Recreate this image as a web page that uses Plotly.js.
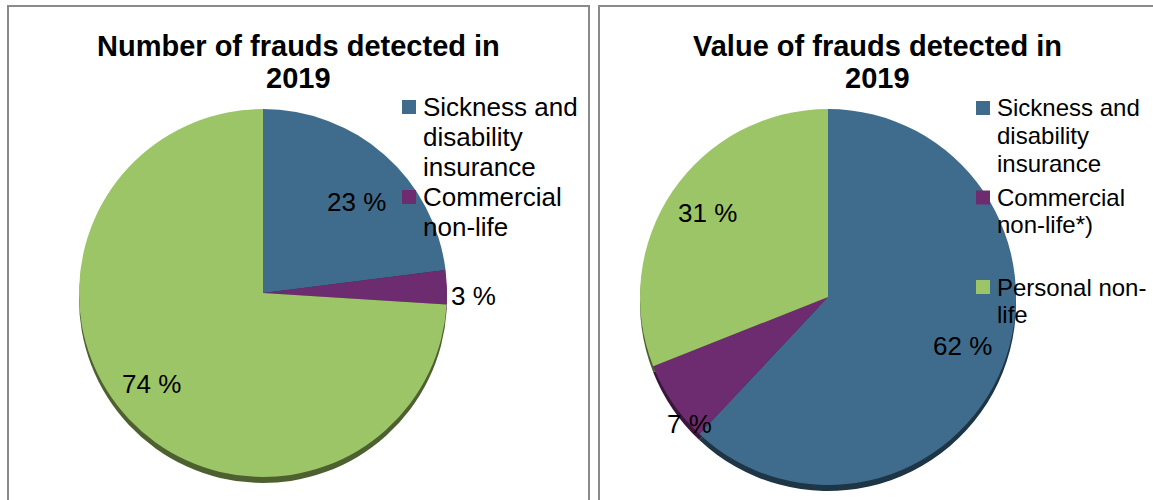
<!DOCTYPE html>
<html><head><meta charset="utf-8">
<script src="https://cdn.plot.ly/plotly-3.0.1.min.js"></script>
<style>html,body{margin:0;padding:0;background:#fff}</style>
</head><body><div id="chart" style="width:1153px;height:500px"></div>
<script>
// ---- data ----
const categoriesLeft = ["Sickness and<br>disability<br>insurance", "Commercial<br>non-life", "Personal non-<br>life"];
const categoriesRight = ["Sickness and<br>disability<br>insurance", "Commercial<br>non-life*)", "Personal non-<br>life"];
const numberShares = [23, 3, 74];
const valueShares = [62, 7, 31];
const titleLeft = "Number of frauds detected in<br>2019";
const titleRight = "Value of frauds detected in<br>2019";

// ---- styles ----
const W = 1153, H = 500;
const FONT = "Liberation Sans, Arial, sans-serif";
const sliceColors = ["#3F6C8C", "#6E2C70", "#9CC568"];
const shadowColors = ["#1E3546", "#3a163b", "#4C612F"];

const panels = [
  { labels: categoriesLeft, values: numberShares, title: titleLeft,
    cx: 263, cy: 293, r: 184, shadow: 6, titleX: 298, titleY: 46, titleGap: 32,
    legendSq: 409, legendTextX: 421, legendY0: 107, itemGap: 90, lineGap: 30, legendFont: 26, legendItems: 2,
    labelR: [0.707, 1.146, 0.78], labelNudge: [4.5, 2.6, 4.1] },
  { labels: categoriesRight, values: valueShares, title: titleRight,
    cx: 828, cy: 297, r: 188, shadow: 6, titleX: 877, titleY: 46, titleGap: 32,
    legendSq: 983, legendTextX: 995, legendY0: 108, itemGap: 89.5, lineGap: 27.5, legendFont: 24, legendItems: 3,
    labelR: [0.76, 1.0, 0.78], labelNudge: [-1.6, -8.2, 0.6] }
];

const px = x => x / W;
const py = y => 1 - y / H;

const traces = [];
const annotations = [];
const shapes = [];

// panel frames
shapes.push({ type: "rect", xref: "paper", yref: "paper", x0: px(8), x1: px(589), y0: py(6), y1: py(520),
  line: { color: "#8a8a8a", width: 2 }, fillcolor: "rgba(0,0,0,0)" });
shapes.push({ type: "rect", xref: "paper", yref: "paper", x0: px(599), x1: px(1170), y0: py(6), y1: py(520),
  line: { color: "#8a8a8a", width: 2 }, fillcolor: "rgba(0,0,0,0)" });

panels.forEach(p => {
  const dom = (dy) => ({ x: [px(p.cx - p.r), px(p.cx + p.r)], y: [py(p.cy + dy + p.r), py(p.cy + dy - p.r)] });
  const base = { type: "pie", labels: p.labels, values: p.values, sort: false, direction: "clockwise", rotation: 0,
    textinfo: "none", hoverinfo: "label+percent", showlegend: false };
  traces.push(Object.assign({}, base, { domain: dom(p.shadow), marker: { colors: shadowColors, line: { width: 0 } }, hoverinfo: "skip" }));
  traces.push(Object.assign({}, base, { domain: dom(0), marker: { colors: sliceColors, line: { width: 0 } } }));

  // title lines
  p.title.split("<br>").forEach((t, j) => {
    annotations.push({ xref: "paper", yref: "paper", x: px(p.titleX), y: py(p.titleY + j * p.titleGap),
      xanchor: "center", yanchor: "middle", showarrow: false, text: "<b>" + t + "</b>",
      font: { family: FONT, size: 29, color: "#000" } });
  });

  // percentage labels from data
  const total = p.values.reduce((a, b) => a + b, 0);
  let cum = 0;
  p.values.forEach((v, i) => {
    const mid = (cum + v / 2) / total * 360 + p.labelNudge[i];
    cum += v;
    const rad = mid * Math.PI / 180;
    const lx = p.cx + p.r * p.labelR[i] * Math.sin(rad);
    const ly = p.cy - p.r * p.labelR[i] * Math.cos(rad);
    annotations.push({ xref: "paper", yref: "paper", x: px(lx), y: py(ly), xanchor: "center", yanchor: "middle",
      showarrow: false, text: v + " %", font: { family: FONT, size: 26, color: "#000" } });
  });

  // legend
  for (let i = 0; i < p.legendItems; i++) {
    const y0 = p.legendY0 + i * p.itemGap;
    shapes.push({ type: "rect", xref: "paper", yref: "paper", x0: px(p.legendSq - 7), x1: px(p.legendSq + 7),
      y0: py(y0 + 7), y1: py(y0 - 7), line: { width: 0 }, fillcolor: sliceColors[i] });
    p.labels[i].split("<br>").forEach((t, j) => {
      annotations.push({ xref: "paper", yref: "paper", x: px(p.legendTextX), y: py(y0 + j * p.lineGap),
        xanchor: "left", yanchor: "middle", showarrow: false, text: t,
        font: { family: FONT, size: p.legendFont, color: "#000" } });
    });
  }
});

const layout = {
  width: W, height: H, margin: { l: 0, r: 0, t: 0, b: 0 },
  paper_bgcolor: "#fff", plot_bgcolor: "#fff", showlegend: false,
  font: { family: FONT },
  shapes: shapes, annotations: annotations
};
Plotly.newPlot("chart", traces, layout, { displayModeBar: false, staticPlot: true });
</script>
</body></html>
